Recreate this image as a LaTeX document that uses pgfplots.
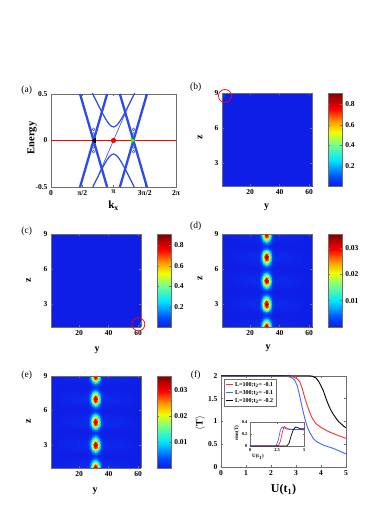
\documentclass[border=0pt]{standalone}
\usepackage{fontspec}
\setmainfont{Liberation Serif}
\usepackage{pgfplots}
\usepackage{pgfplotstable}
\pgfplotsset{compat=1.18}

\definecolor{bandblue}{RGB}{45,75,235}
\definecolor{kgreen}{RGB}{60,240,0}
\definecolor{fred}{RGB}{255,45,45}
\definecolor{fblue}{RGB}{70,100,255}
\definecolor{framegray}{RGB}{110,110,110}

\pgfplotsset{
  colormap={myjet}{rgb255(0pt)=(15,30,230); rgb255(10pt)=(0,75,255); rgb255(28pt)=(0,230,255);
    rgb255(44pt)=(110,255,145); rgb255(58pt)=(240,255,0); rgb255(70pt)=(255,150,0);
    rgb255(83pt)=(255,0,0); rgb255(100pt)=(128,0,0)},
  base/.style={scale only axis, anchor=north west,
    axis line style={framegray}, tick style={framegray}, major tick length=2pt,
    tick label style={font=\fontsize{7.5}{8}\selectfont\bfseries},
    /pgf/number format/assume math mode=true},
  cbar/.style={colorbar, colorbar style={scale only axis, at={(parent axis.north east)},
    anchor=north west, xshift=7.6pt, width=13.7pt, axis line style={framegray},
    tick style={framegray}, major tick length=2pt, scaled y ticks=false,
    yticklabel style={font=\fontsize{7.5}{8}\selectfont\bfseries}, #1}},
  heat/.style={base, view={0}{90}, xmin=1, xmax=62, ymin=1, ymax=9,
    xtick={20,40,60}, ytick={3,6,9}, ztick=\empty, axis on top, clip=false,
    colormap name=myjet, enlargelimits=false, width=90pt, height=93pt},
}

% |psi|^2 on the (y,z) plane for panels (d) and (e)
\pgfplotstableread[row sep=\\]{
x y c\\
1 1 0\\26 1 0.0011\\27 1 0.0039\\28 1 0.0102\\29 1 0.0203\\30 1 0.0305\\31 1 0.0350\\32 1 0.0305\\33 1 0.0203\\34 1 0.0102\\35 1 0.0039\\36 1 0.0011\\62 1 0\\
1 1.25 0\\26 1.25 0.0009\\27 1.25 0.0032\\28 1.25 0.0084\\29 1.25 0.0167\\30 1.25 0.0251\\31 1.25 0.0288\\32 1.25 0.0251\\33 1.25 0.0167\\34 1.25 0.0084\\35 1.25 0.0032\\36 1.25 0.0009\\62 1.25 0\\
1 1.5 0\\26 1.5 0.0005\\27 1.5 0.0018\\28 1.5 0.0047\\29 1.5 0.0093\\30 1.5 0.0140\\31 1.5 0.0160\\32 1.5 0.0140\\33 1.5 0.0093\\34 1.5 0.0047\\35 1.5 0.0018\\36 1.5 0.0005\\62 1.5 0\\
1 1.75 0\\26 1.75 0.0002\\27 1.75 0.0007\\28 1.75 0.0017\\29 1.75 0.0035\\30 1.75 0.0052\\31 1.75 0.0060\\32 1.75 0.0052\\33 1.75 0.0035\\34 1.75 0.0017\\35 1.75 0.0007\\36 1.75 0.0002\\62 1.75 0\\
1 2 0\\26 2 0\\27 2 0.0002\\28 2 0.0004\\29 2 0.0009\\30 2 0.0013\\31 2 0.0015\\32 2 0.0013\\33 2 0.0009\\34 2 0.0004\\35 2 0.0002\\36 2 0\\62 2 0\\
1 2.25 0\\26 2.25 0.0002\\27 2.25 0.0007\\28 2.25 0.0017\\29 2.25 0.0035\\30 2.25 0.0052\\31 2.25 0.0060\\32 2.25 0.0052\\33 2.25 0.0035\\34 2.25 0.0017\\35 2.25 0.0007\\36 2.25 0.0002\\62 2.25 0\\
1 2.5 0\\26 2.5 0.0005\\27 2.5 0.0018\\28 2.5 0.0047\\29 2.5 0.0093\\30 2.5 0.0140\\31 2.5 0.0160\\32 2.5 0.0140\\33 2.5 0.0093\\34 2.5 0.0047\\35 2.5 0.0018\\36 2.5 0.0005\\62 2.5 0\\
1 2.75 0\\26 2.75 0.0009\\27 2.75 0.0032\\28 2.75 0.0084\\29 2.75 0.0167\\30 2.75 0.0251\\31 2.75 0.0288\\32 2.75 0.0251\\33 2.75 0.0167\\34 2.75 0.0084\\35 2.75 0.0032\\36 2.75 0.0009\\62 2.75 0\\
1 3 0\\26 3 0.0011\\27 3 0.0039\\28 3 0.0102\\29 3 0.0203\\30 3 0.0305\\31 3 0.0350\\32 3 0.0305\\33 3 0.0203\\34 3 0.0102\\35 3 0.0039\\36 3 0.0011\\62 3 0\\
1 3.25 0\\26 3.25 0.0009\\27 3.25 0.0032\\28 3.25 0.0084\\29 3.25 0.0167\\30 3.25 0.0251\\31 3.25 0.0288\\32 3.25 0.0251\\33 3.25 0.0167\\34 3.25 0.0084\\35 3.25 0.0032\\36 3.25 0.0009\\62 3.25 0\\
1 3.5 0\\26 3.5 0.0005\\27 3.5 0.0018\\28 3.5 0.0047\\29 3.5 0.0093\\30 3.5 0.0140\\31 3.5 0.0160\\32 3.5 0.0140\\33 3.5 0.0093\\34 3.5 0.0047\\35 3.5 0.0018\\36 3.5 0.0005\\62 3.5 0\\
1 3.75 0\\26 3.75 0.0002\\27 3.75 0.0007\\28 3.75 0.0017\\29 3.75 0.0035\\30 3.75 0.0052\\31 3.75 0.0060\\32 3.75 0.0052\\33 3.75 0.0035\\34 3.75 0.0017\\35 3.75 0.0007\\36 3.75 0.0002\\62 3.75 0\\
1 4 0\\26 4 0\\27 4 0.0002\\28 4 0.0004\\29 4 0.0009\\30 4 0.0013\\31 4 0.0015\\32 4 0.0013\\33 4 0.0009\\34 4 0.0004\\35 4 0.0002\\36 4 0\\62 4 0\\
1 4.25 0\\26 4.25 0.0002\\27 4.25 0.0007\\28 4.25 0.0017\\29 4.25 0.0035\\30 4.25 0.0052\\31 4.25 0.0060\\32 4.25 0.0052\\33 4.25 0.0035\\34 4.25 0.0017\\35 4.25 0.0007\\36 4.25 0.0002\\62 4.25 0\\
1 4.5 0\\26 4.5 0.0005\\27 4.5 0.0018\\28 4.5 0.0047\\29 4.5 0.0093\\30 4.5 0.0140\\31 4.5 0.0160\\32 4.5 0.0140\\33 4.5 0.0093\\34 4.5 0.0047\\35 4.5 0.0018\\36 4.5 0.0005\\62 4.5 0\\
1 4.75 0\\26 4.75 0.0009\\27 4.75 0.0032\\28 4.75 0.0084\\29 4.75 0.0167\\30 4.75 0.0251\\31 4.75 0.0288\\32 4.75 0.0251\\33 4.75 0.0167\\34 4.75 0.0084\\35 4.75 0.0032\\36 4.75 0.0009\\62 4.75 0\\
1 5 0\\26 5 0.0011\\27 5 0.0039\\28 5 0.0102\\29 5 0.0203\\30 5 0.0305\\31 5 0.0350\\32 5 0.0305\\33 5 0.0203\\34 5 0.0102\\35 5 0.0039\\36 5 0.0011\\62 5 0\\
1 5.25 0\\26 5.25 0.0009\\27 5.25 0.0032\\28 5.25 0.0084\\29 5.25 0.0167\\30 5.25 0.0251\\31 5.25 0.0288\\32 5.25 0.0251\\33 5.25 0.0167\\34 5.25 0.0084\\35 5.25 0.0032\\36 5.25 0.0009\\62 5.25 0\\
1 5.5 0\\26 5.5 0.0005\\27 5.5 0.0018\\28 5.5 0.0047\\29 5.5 0.0093\\30 5.5 0.0140\\31 5.5 0.0160\\32 5.5 0.0140\\33 5.5 0.0093\\34 5.5 0.0047\\35 5.5 0.0018\\36 5.5 0.0005\\62 5.5 0\\
1 5.75 0\\26 5.75 0.0002\\27 5.75 0.0007\\28 5.75 0.0017\\29 5.75 0.0035\\30 5.75 0.0052\\31 5.75 0.0060\\32 5.75 0.0052\\33 5.75 0.0035\\34 5.75 0.0017\\35 5.75 0.0007\\36 5.75 0.0002\\62 5.75 0\\
1 6 0\\26 6 0\\27 6 0.0002\\28 6 0.0004\\29 6 0.0009\\30 6 0.0013\\31 6 0.0015\\32 6 0.0013\\33 6 0.0009\\34 6 0.0004\\35 6 0.0002\\36 6 0\\62 6 0\\
1 6.25 0\\26 6.25 0.0002\\27 6.25 0.0007\\28 6.25 0.0017\\29 6.25 0.0035\\30 6.25 0.0052\\31 6.25 0.0060\\32 6.25 0.0052\\33 6.25 0.0035\\34 6.25 0.0017\\35 6.25 0.0007\\36 6.25 0.0002\\62 6.25 0\\
1 6.5 0\\26 6.5 0.0005\\27 6.5 0.0018\\28 6.5 0.0047\\29 6.5 0.0093\\30 6.5 0.0140\\31 6.5 0.0160\\32 6.5 0.0140\\33 6.5 0.0093\\34 6.5 0.0047\\35 6.5 0.0018\\36 6.5 0.0005\\62 6.5 0\\
1 6.75 0\\26 6.75 0.0009\\27 6.75 0.0032\\28 6.75 0.0084\\29 6.75 0.0167\\30 6.75 0.0251\\31 6.75 0.0288\\32 6.75 0.0251\\33 6.75 0.0167\\34 6.75 0.0084\\35 6.75 0.0032\\36 6.75 0.0009\\62 6.75 0\\
1 7 0\\26 7 0.0011\\27 7 0.0039\\28 7 0.0102\\29 7 0.0203\\30 7 0.0305\\31 7 0.0350\\32 7 0.0305\\33 7 0.0203\\34 7 0.0102\\35 7 0.0039\\36 7 0.0011\\62 7 0\\
1 7.25 0\\26 7.25 0.0009\\27 7.25 0.0032\\28 7.25 0.0084\\29 7.25 0.0167\\30 7.25 0.0251\\31 7.25 0.0288\\32 7.25 0.0251\\33 7.25 0.0167\\34 7.25 0.0084\\35 7.25 0.0032\\36 7.25 0.0009\\62 7.25 0\\
1 7.5 0\\26 7.5 0.0005\\27 7.5 0.0018\\28 7.5 0.0047\\29 7.5 0.0093\\30 7.5 0.0140\\31 7.5 0.0160\\32 7.5 0.0140\\33 7.5 0.0093\\34 7.5 0.0047\\35 7.5 0.0018\\36 7.5 0.0005\\62 7.5 0\\
1 7.75 0\\26 7.75 0.0002\\27 7.75 0.0007\\28 7.75 0.0017\\29 7.75 0.0035\\30 7.75 0.0052\\31 7.75 0.0060\\32 7.75 0.0052\\33 7.75 0.0035\\34 7.75 0.0017\\35 7.75 0.0007\\36 7.75 0.0002\\62 7.75 0\\
1 8 0\\26 8 0\\27 8 0.0002\\28 8 0.0004\\29 8 0.0009\\30 8 0.0013\\31 8 0.0015\\32 8 0.0013\\33 8 0.0009\\34 8 0.0004\\35 8 0.0002\\36 8 0\\62 8 0\\
1 8.25 0\\26 8.25 0.0002\\27 8.25 0.0007\\28 8.25 0.0017\\29 8.25 0.0035\\30 8.25 0.0052\\31 8.25 0.0060\\32 8.25 0.0052\\33 8.25 0.0035\\34 8.25 0.0017\\35 8.25 0.0007\\36 8.25 0.0002\\62 8.25 0\\
1 8.5 0\\26 8.5 0.0005\\27 8.5 0.0018\\28 8.5 0.0047\\29 8.5 0.0093\\30 8.5 0.0140\\31 8.5 0.0160\\32 8.5 0.0140\\33 8.5 0.0093\\34 8.5 0.0047\\35 8.5 0.0018\\36 8.5 0.0005\\62 8.5 0\\
1 8.75 0\\26 8.75 0.0009\\27 8.75 0.0032\\28 8.75 0.0084\\29 8.75 0.0167\\30 8.75 0.0251\\31 8.75 0.0288\\32 8.75 0.0251\\33 8.75 0.0167\\34 8.75 0.0084\\35 8.75 0.0032\\36 8.75 0.0009\\62 8.75 0\\
1 9 0\\26 9 0.0011\\27 9 0.0039\\28 9 0.0102\\29 9 0.0203\\30 9 0.0305\\31 9 0.0350\\32 9 0.0305\\33 9 0.0203\\34 9 0.0102\\35 9 0.0039\\36 9 0.0011\\62 9 0\\
}\blobtab

\begin{document}
\begin{tikzpicture}
\useasboundingbox (0,0) rectangle (372pt,-526pt);

% ---------- (a) spectrum ----------
\begin{axis}[base, at={(51pt,-94pt)}, width=125pt, height=93pt,
  xmin=0, xmax=6.2832, ymin=-0.5, ymax=0.5,
  xtick={0,1.5708,3.1416,4.7124,6.2832}, xticklabels={0,π/2,π,3π/2,2π},
  ytick={-0.5,0,0.5}, yticklabels={-0.5,0,0.5}]
\addplot[bandblue, line width=2.3pt] coordinates {(1.46,0.5) (2.82,-0.5)};
\addplot[bandblue, line width=2.3pt] coordinates {(2.82,0.5) (1.46,-0.5)};
\addplot[bandblue, line width=2.3pt] coordinates {(3.463,0.5) (4.823,-0.5)};
\addplot[bandblue, line width=2.3pt] coordinates {(4.823,0.5) (3.463,-0.5)};
\addplot[bandblue, line width=1.2pt, smooth] coordinates {
  (2.0416,0.5263) (2.1416,0.4823) (2.3416,0.3955) (2.5416,0.3118) (2.7416,0.2342)
  (2.9416,0.1717) (3.1416,0.145) (3.3416,0.1717) (3.5416,0.2342) (3.7416,0.3118)
  (3.9416,0.3955) (4.1416,0.4823) (4.2416,0.5263)};
\addplot[bandblue, line width=1.2pt, smooth] coordinates {
  (2.0416,-0.5263) (2.1416,-0.4823) (2.3416,-0.3955) (2.5416,-0.3118) (2.7416,-0.2342)
  (2.9416,-0.1717) (3.1416,-0.145) (3.3416,-0.1717) (3.5416,-0.2342) (3.7416,-0.3118)
  (3.9416,-0.3955) (4.1416,-0.4823) (4.2416,-0.5263)};
\addplot[bandblue, line width=0.6pt] coordinates {(2.44,-0.345) (3.84,0.345)};
\addplot[bandblue, only marks, mark=o, mark size=1.4pt, mark options={line width=0.5pt}]
  coordinates {(2.14,0.07) (2.14,0.12) (2.14,-0.07) (2.14,-0.12)
               (4.143,0.07) (4.143,0.12) (4.143,-0.07) (4.143,-0.12)};
\addplot[red, line width=0.8pt] coordinates {(0,0) (6.2832,0)};
\addplot[only marks, mark=triangle*, mark size=2.8pt, black, mark options={rotate=90}]
  coordinates {(2.18,0)};
\addplot[only marks, mark=*, mark size=2.4pt, red] coordinates {(3.1416,0)};
\addplot[only marks, mark=triangle*, mark size=2.8pt, kgreen, mark options={rotate=-90}]
  coordinates {(4.09,0)};
\end{axis}

% ---------- (b) ----------
\begin{axis}[heat, at={(222pt,-93.3pt)}, point meta min=0, point meta max=0.91,
  cbar={ytick={0.2,0.4,0.6,0.8}, yticklabels={0.2,0.4,0.6,0.8}}]
\addplot3[surf, shader=interp, mesh/cols=4] coordinates {
  (1,1,0) (2,1,0) (3,1,0) (62,1,0)
  (1,8.5,0.03) (2,8.5,0) (3,8.5,0) (62,8.5,0)
  (1,9,0.6) (2,9,0.08) (3,9,0) (62,9,0)};
\addplot3[only marks, mark=o, mark size=6.5pt, red, mark options={line width=0.7pt}]
  coordinates {(3,8.77,1)};
\end{axis}

% ---------- (c) ----------
\begin{axis}[heat, at={(51pt,-234.3pt)}, point meta min=0, point meta max=0.91,
  cbar={ytick={0.2,0.4,0.6,0.8}, yticklabels={0.2,0.4,0.6,0.8}}]
\addplot3[surf, shader=interp, mesh/cols=4] coordinates {
  (1,1,0) (60,1,0) (61,1,0.08) (62,1,0.6)
  (1,1.5,0) (60,1.5,0) (61,1.5,0) (62,1.5,0.03)
  (1,9,0) (60,9,0) (61,9,0) (62,9,0)};
\addplot3[only marks, mark=o, mark size=6.5pt, red, mark options={line width=0.7pt}]
  coordinates {(60.2,1.26,1)};
\end{axis}

% ---------- (d) ----------
\begin{axis}[heat, at={(222pt,-234pt)}, point meta min=0, point meta max=0.0352,
  cbar={ytick={0.01,0.02,0.03}, yticklabels={0.01,0.02,0.03}}]
\addplot3[surf, shader=interp, mesh/cols=13] table[x=x, y=y, z=c] {\blobtab};
\end{axis}

% ---------- (e) ----------
\begin{axis}[heat, at={(51pt,-375.7pt)}, height=92pt, point meta min=0, point meta max=0.0354,
  cbar={ytick={0.01,0.02,0.03}, yticklabels={0.01,0.02,0.03}}]
\addplot3[surf, shader=interp, mesh/cols=13] table[x=x, y=y, z=c] {\blobtab};
\end{axis}

% ---------- (f) ----------
\begin{axis}[base, at={(221pt,-375.7pt)}, width=125pt, height=91.5pt,
  xmin=0, xmax=5, ymin=0, ymax=2, xtick={0,1,2,3,4,5}, ytick={0,0.5,1,1.5,2},
  yticklabels={0,0.5,1,1.5,2},
  legend style={at={(axis description cs:0.025,0.965)}, anchor=north west,
    font=\fontsize{6}{6.5}\selectfont\bfseries, draw=framegray, inner sep=1pt,
    row sep=-1.5pt, legend cell align=left},
  legend image code/.code={\draw[#1] (0pt,0pt) -- (7pt,0pt);}]
\addplot[fred, line width=0.9pt] coordinates {(0,2) (2.75,2) (2.9,1.97) (3.05,1.93)
  (3.15,1.87) (3.25,1.72) (3.35,1.52) (3.45,1.35) (3.55,1.2) (3.65,1.07) (3.8,0.95)
  (4.0,0.87) (4.3,0.78) (4.6,0.71) (5,0.63)};
\addlegendentry{L=100;t\textsubscript{2}= -0.1}
\addplot[fblue, line width=0.9pt] coordinates {(0,2) (2.5,2) (2.7,1.98) (2.85,1.95)
  (2.95,1.9) (3.05,1.78) (3.15,1.55) (3.25,1.3) (3.35,1.07) (3.45,0.88) (3.55,0.76)
  (3.7,0.62) (3.85,0.55) (4.1,0.48) (4.5,0.41) (5,0.29)};
\addlegendentry{L=300;t\textsubscript{2}= -0.1}
\addplot[black, line width=0.9pt] coordinates {(0,2) (3.5,2) (3.65,1.99) (3.8,1.95)
  (3.9,1.88) (4.0,1.78) (4.1,1.66) (4.2,1.5) (4.3,1.36) (4.4,1.24) (4.5,1.15)
  (4.6,1.07) (4.7,1.0) (4.8,0.95) (4.9,0.9) (5,0.86)};
\addlegendentry{L=100;t\textsubscript{2}= -0.2}
\end{axis}

% inset of (f)
\begin{axis}[base, at={(250pt,-422.3pt)}, width=54.3pt, height=23.7pt,
  axis background/.style={fill=white},
  xmin=0, xmax=5, ymin=0, ymax=0.4, xtick={0,2.5,5}, xticklabels={0,2.5,5},
  ytick={0,0.2,0.4}, yticklabels={0,0.2,0.4}, major tick length=1.5pt,
  tick label style={font=\fontsize{4.5}{5}\selectfont\bfseries},
  xticklabel style={yshift=1pt}, yticklabel style={xshift=1pt}]
\addplot[fred, line width=0.7pt] coordinates {(0,0) (2.6,0) (2.8,0.08) (3.0,0.25)
  (3.15,0.33) (3.3,0.31) (3.5,0.29) (4,0.28) (4.5,0.28) (5,0.28)};
\addplot[fblue, line width=0.7pt] coordinates {(0,0) (2.4,0) (2.6,0.1) (2.8,0.27)
  (2.95,0.32) (3.1,0.31) (3.3,0.29) (3.6,0.28) (4,0.28) (5,0.27)};
\addplot[black, line width=0.7pt] coordinates {(0,0) (3.4,0) (3.6,0.05) (3.8,0.18)
  (4.0,0.28) (4.2,0.32) (4.4,0.31) (4.6,0.29) (5,0.29)};
\end{axis}

% axis titles and panel letters
\begin{scope}[every node/.style={font=\fontsize{10}{11}\selectfont\bfseries}]
\node[rotate=90, font=\fontsize{10.5}{12}\selectfont\bfseries] at (32pt,-138pt) {Energy};
\node[font=\fontsize{11}{12}\selectfont\bfseries] at (113.5pt,-206pt) {k\textsubscript{x}};
\node[rotate=90] at (200pt,-137pt) {z};
\node at (266.7pt,-207pt) {y};
\node[rotate=90] at (28.5pt,-280pt) {z};
\node at (97pt,-350.5pt) {y};
\node[rotate=90] at (200pt,-278.5pt) {z};
\node at (268pt,-348.5pt) {y};
\node[rotate=90] at (28.5pt,-421.5pt) {z};
\node at (95pt,-491.5pt) {y};
\node[rotate=90] at (200pt,-423pt) {$\langle$T$\rangle$};
\node[font=\fontsize{12}{13}\selectfont\bfseries] at (283.5pt,-489.5pt) {U(t\textsubscript{1})};
\node[font=\fontsize{5}{6}\selectfont\bfseries] at (258pt,-457pt) {U(t\textsubscript{1})};
\node[rotate=90, font=\fontsize{5}{6}\selectfont\bfseries] at (237pt,-433pt) {rms(T)};
\end{scope}
\begin{scope}[every node/.style={font=\fontsize{9.5}{11}\selectfont}]
\node at (26.7pt,-90pt) {(a)};
\node at (195.7pt,-87.3pt) {(b)};
\node at (26.7pt,-231.7pt) {(c)};
\node at (195.7pt,-226.7pt) {(d)};
\node at (26.7pt,-375pt) {(e)};
\node at (195.7pt,-375pt) {(f)};
\end{scope}
\end{tikzpicture}
\end{document}
